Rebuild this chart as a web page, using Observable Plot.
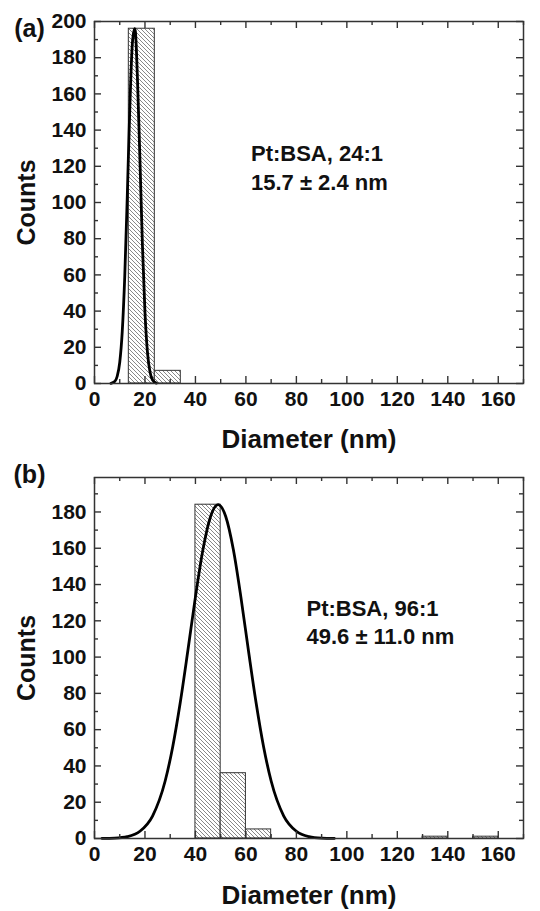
<!DOCTYPE html>
<html><head><meta charset="utf-8">
<script src="https://cdn.jsdelivr.net/npm/d3@7"></script>
<script src="https://cdn.jsdelivr.net/npm/@observablehq/plot@0.6"></script>
<style>body{margin:0;background:#fff;} svg{display:block;}</style>
</head><body><div id="chart"></div>
<script>
// ---------- Panel (a) data ----------
const binsA_x1 = [13.6, 23.9];
const binsA_x2 = [23.9, 34.2];
const countsA = [196, 7];
const curveA_x = [6.5, 8, 9, 10, 11, 12, 13, 14, 15, 15.9, 16.2, 17, 18, 19, 20, 21, 22, 23, 24.5];
const curveA_y = [0.1, 1.1, 4, 11.7, 28.8, 59.7, 104, 152.5, 187.8, 196, 194.5, 169.3, 123.9, 76.2, 39.4, 17.1, 6.3, 1.9, 0.2];
const labelA = "Pt:BSA, 24:1\n15.7 ± 2.4 nm";
const panelA = "(a)";

// ---------- Panel (b) data ----------
const binsB_x1 = [40, 50, 60, 130, 150];
const binsB_x2 = [50, 60, 70, 140, 160];
const countsB = [184, 36, 5, 1, 1];
const curveB_x = [3, 8, 13, 18, 23, 28, 31, 34, 37, 40, 43, 46, 49, 52, 55, 58, 61, 64, 67, 70, 75, 80, 85, 90, 95];
const curveB_y = [0.04, 0.23, 1.05, 4.0, 12.4, 31.7, 50.6, 75.1, 103.6, 133.2, 159.4, 177.5, 184, 177.5, 159.4, 133.2, 103.6, 75.1, 50.6, 31.7, 12.4, 4.0, 1.05, 0.23, 0.05];
const labelB = "Pt:BSA, 96:1\n49.6 ± 11.0 nm";
const panelB = "(b)";

// ---------- Axes ----------
const xTicks = [0, 20, 40, 60, 80, 100, 120, 140, 160];
const xMinor = [10, 30, 50, 70, 90, 110, 130, 150, 170];
const yTicksA = [0, 20, 40, 60, 80, 100, 120, 140, 160, 180, 200];
const yMinorA = [10, 30, 50, 70, 90, 110, 130, 150, 170, 190];
const yTicksB = [0, 20, 40, 60, 80, 100, 120, 140, 160, 180];
const yMinorB = [10, 30, 50, 70, 90, 110, 130, 150, 170, 190];
const xLabel = "Diameter (nm)";
const yLabel = "Counts";

const FONT = "'Liberation Sans', Arial, Helvetica, sans-serif";
const AX = "#333";

function frameTicks(xMaj, xMin, yMaj, yMin, innerW, innerH) {
  const c = {stroke: AX, strokeWidth: 1.4};
  return [
    Plot.tickX(xMaj, {x: d => d, insetTop: innerH - 7, ...c}),
    Plot.tickX(xMaj, {x: d => d, insetBottom: innerH - 7, ...c}),
    Plot.tickX(xMin, {x: d => d, insetTop: innerH - 4, ...c}),
    Plot.tickX(xMin, {x: d => d, insetBottom: innerH - 4, ...c}),
    Plot.tickY(yMaj, {y: d => d, insetRight: innerW - 7, ...c}),
    Plot.tickY(yMaj, {y: d => d, insetLeft: innerW - 7, ...c}),
    Plot.tickY(yMin, {y: d => d, insetRight: innerW - 4, ...c}),
    Plot.tickY(yMin, {y: d => d, insetLeft: innerW - 4, ...c})
  ];
}

function addHatch(svg, id) {
  const defs = d3.select(svg).insert("defs", ":first-child");
  const p = defs.append("pattern").attr("id", id)
    .attr("patternUnits", "userSpaceOnUse").attr("width", 4).attr("height", 4);
  p.append("rect").attr("width", 4).attr("height", 4).attr("fill", "#fff");
  p.append("path").attr("d", "M-1,-1L5,5M3,-1L5,1M-1,3L1,5")
    .attr("stroke", "#6a6a6a").attr("stroke-width", 0.8);
}

function panel({x1, x2, counts, cx, cy, yDomain, yTicks, yMin, label, letter, height, mTop, mBottom, letterDy, xLabelDy, hatchId, labelX}) {
  const mLeft = 94, mRight = 17, W = 540;
  const innerW = W - mLeft - mRight, innerH = height - mTop - mBottom;
  const bars = counts.map((c, i) => ({x1: x1[i], x2: x2[i], y: c}));
  const curve = cx.map((v, i) => ({x: v, y: cy[i]}));
  const svg = Plot.plot({
    width: W, height, marginLeft: mLeft, marginRight: mRight, marginTop: mTop, marginBottom: mBottom,
    style: {fontFamily: FONT, fontWeight: "bold", fontSize: "21px", color: "#111", background: "#fff"},
    x: {domain: [0, 170]},
    y: {domain: yDomain},
    marks: [
      Plot.rectY(bars, {x1: "x1", x2: "x2", y: "y", fill: `url(#${hatchId})`, stroke: "#333", strokeWidth: 1}),
      Plot.line(curve, {x: "x", y: "y", stroke: "#000", strokeWidth: 2.8, curve: "monotone-x"}),
      Plot.frame({stroke: AX, strokeWidth: 1.5}),
      ...frameTicks(xTicks, xMinor, yTicks, yMin, innerW, innerH),
      Plot.axisX(xTicks, {tickSize: 0, tickPadding: 8, label: null, fontSize: 21, fontWeight: "bold", fill: "#111"}),
      Plot.axisY(yTicks, {tickSize: 0, tickPadding: 8, label: null, fontSize: 21, fontWeight: "bold", fill: "#111"}),
      Plot.text([xLabel], {frameAnchor: "bottom", textAnchor: "middle", lineAnchor: "middle", dy: xLabelDy, fontSize: 26, fontWeight: "bold", fill: "#111"}),
      Plot.text([yLabel], {frameAnchor: "left", textAnchor: "middle", lineAnchor: "middle", dx: -68, rotate: -90, fontSize: 25, fontWeight: "bold", fill: "#111"}),
      Plot.text([letter], {frameAnchor: "top-left", textAnchor: "middle", lineAnchor: "middle", dx: -65, dy: letterDy, fontSize: 25, fontWeight: "bold", fill: "#111"}),
      Plot.text([label], {x: labelX, y: 120, textAnchor: "start", lineAnchor: "middle", lineHeight: 1.3, fontSize: 22, fontWeight: "bold", fill: "#111"})
    ]
  });
  addHatch(svg, hatchId);
  return svg;
}

const chart = document.getElementById("chart");
chart.append(panel({x1: binsA_x1, x2: binsA_x2, counts: countsA, cx: curveA_x, cy: curveA_y,
  yDomain: [0, 200], yTicks: yTicksA, yMin: yMinorA, label: labelA, letter: panelA,
  height: 455, mTop: 21, mBottom: 72, letterDy: 7, xLabelDy: 56, hatchId: "hatchA", labelX: 62}));
chart.append(panel({x1: binsB_x1, x2: binsB_x2, counts: countsB, cx: curveB_x, cy: curveB_y,
  yDomain: [0, 199], yTicks: yTicksB, yMin: yMinorB, label: labelB, letter: panelB,
  height: 456, mTop: 22, mBottom: 73, letterDy: -3, xLabelDy: 57, hatchId: "hatchB", labelX: 84}));
</script>
</body></html>
